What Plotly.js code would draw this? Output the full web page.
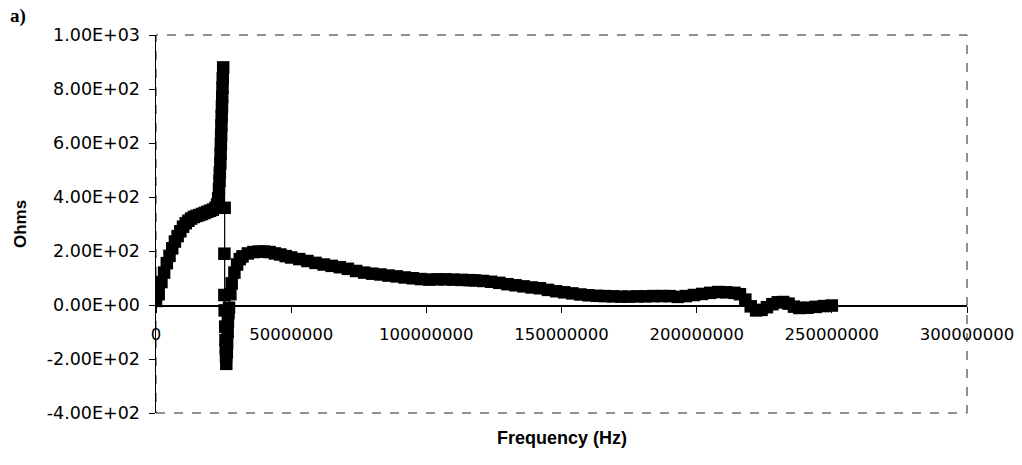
<!DOCTYPE html>
<html>
<head>
<meta charset="utf-8">
<script src="https://cdn.plot.ly/plotly-3.0.1.min.js"></script>
<style>html,body{margin:0;padding:0;background:#fff;}#chart{width:1022px;height:465px;}</style>
</head>
<body>
<div id="chart"></div>
<script>
// Frequency in MHz (axis labels shown in Hz)
var freqMHz = [0,1,2,3,4,5,6,7,8,9,10,11,12,13,14,15,16,17,18,19,20,21,22,22.6,23.0,23.3,23.5,23.6,23.8,23.9,24.0,24.1,24.2,24.3,24.4,24.5,24.6,24.7,24.85,
  25.4,25.3,25.3,25.4,25.6,25.7,25.8,25.9,26.0,26.2,26.3,26.5,26.6,26.8,27,27.5,28,29,30,31,32,34,36,38,40,42,44,46,48,
  50,53,56,59,62,65,68,71,74,77,80,83,86,89,92,95,98,101,104,107,110,113,116,
  118,121,124,127,130,133,136,139,142,145,148,151,154,157,160,163,166,169,172,175,178,181,184,187,190,193,196,199,202,205,208,211,214,216,218,220,222,224,226,228,230,232,234,236,238,241,244,247,250];
var ohms = [15,40,85,120,155,182,210,235,255,273,290,303,312,320,326,330,333,337,341,345,349,353,360,372,395,430,460,490,525,560,595,630,665,700,735,770,805,840,880,
  360,190,37,-20,-80,-130,-160,-190,-218,-175,-140,-100,-60,-30,-10,40,80,120,150,170,180,191,196,198,198,196,191,187,181,
  176,170,163,156,150,145,140,134,126,120,116,113,109,106,102,99,96,94,95,95,94,93,92,
  91,89,86,82,77,73,69,65,62,56,51,47,43,39,36,34,33,32,31,31,32,32,33,33,33,30,33,37,41,45,48,47,45,40,20,-5,-20,-18,-8,3,10,11,5,-6,-11,-10,-7,-4,-2];

var yTickVals = [-400,-200,0,200,400,600,800,1000];
var yTickText = ['-4.00E+02','-2.00E+02','0.00E+00','2.00E+02','4.00E+02','6.00E+02','8.00E+02','1.00E+03'];
var xTickVals = [0,50,100,150,200,250,300];
var xTickText = ['0','50000000','100000000','150000000','200000000','250000000','300000000'];

var trace = {
  x: freqMHz, y: ohms, type: 'scatter', mode: 'lines+markers',
  line: {color: '#000', width: 1.2},
  marker: {symbol: 'square', size: 12.5, color: '#000', line: {width: 0}},
  hoverinfo: 'skip', showlegend: false
};

var yTickFont = {family: 'DejaVu Sans, Arial, sans-serif', size: 17.5, color: '#000'};
var xTickFont = {family: 'DejaVu Sans, Arial, sans-serif', size: 16.5, color: '#000'};
var layout = {
  width: 1022, height: 465,
  margin: {l: 156, r: 55, t: 35, b: 52, pad: 0},
  paper_bgcolor: '#fff', plot_bgcolor: '#fff',
  showlegend: false,
  xaxis: {
    range: [0, 300], anchor: 'free', position: 400/1400,
    tickvals: xTickVals, ticktext: xTickText, tickfont: xTickFont,
    ticks: 'outside', ticklen: 6, tickcolor: '#000', tickwidth: 1,
    ticklabelstandoff: 8,
    showline: true, linecolor: '#000', linewidth: 1.5,
    showgrid: false, zeroline: false, fixedrange: true
  },
  yaxis: {
    range: [-400, 1000],
    tickvals: yTickVals, ticktext: yTickText, tickfont: yTickFont,
    ticks: 'outside', ticklen: 6, tickcolor: '#000', tickwidth: 1,
    ticklabelstandoff: 5,
    showline: true, linecolor: '#000', linewidth: 1.5,
    showgrid: false, zeroline: false, fixedrange: true,
    title: {text: 'Ohms', font: {family: 'Liberation Sans, Arial, sans-serif', size: 17, color: '#000', weight: 'bold'}, standoff: 16}
  },
  shapes: [{type: 'rect', xref: 'paper', yref: 'paper', x0: 0, x1: 1, y0: 0, y1: 1,
    line: {color: '#222', width: 1, dash: 'dash'}, layer: 'below'}],
  annotations: [
    {text: '<b>Frequency (Hz)</b>', xref: 'paper', yref: 'paper', x: 0.5, y: -0.035, yanchor: 'top', xanchor: 'center',
     showarrow: false, font: {family: 'Liberation Sans, Arial, sans-serif', size: 18, color: '#000'}},
    {text: '<b>a)</b>', xref: 'paper', yref: 'paper', x: -0.183, y: 1.05, xanchor: 'left', yanchor: 'middle',
     showarrow: false, font: {family: 'Liberation Serif, Times New Roman, serif', size: 19, color: '#000'}}
  ]
};
Plotly.newPlot('chart', [trace], layout, {displayModeBar: false, staticPlot: true});
</script>
</body>
</html>
